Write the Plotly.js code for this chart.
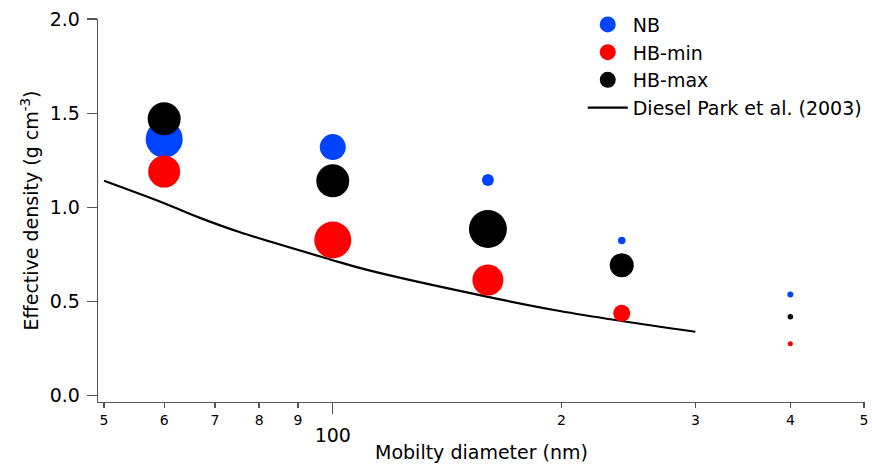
<!DOCTYPE html>
<html>
<head>
<meta charset="utf-8">
<script src="https://cdn.plot.ly/plotly-3.0.1.min.js"></script>
<style>html,body{margin:0;padding:0;background:#fff;}#chart{width:872px;height:464px;}</style>
</head>
<body>
<div id="chart"></div>
<script>
// Mobility diameters (nm)
const diam = [60, 100, 160, 240, 400];
// Effective density (g cm^-3)
const nbDensity    = [1.362, 1.320, 1.146, 0.824, 0.537];
const hbMinDensity = [1.190, 0.827, 0.615, 0.438, 0.276];
const hbMaxDensity = [1.470, 1.141, 0.885, 0.693, 0.420];
// Relative marker weights (marker diameter)
const nbWeight    = [37, 26, 12, 7.5, 6];
const hbMinWeight = [32, 37, 31, 17, 5];
const hbMaxWeight = [33, 33, 38, 24, 5.5];
// Diesel Park et al. (2003) curve
const parkDiam    = [50, 60, 67, 75.5, 99, 112, 160, 199, 240, 300];
const parkDensity = [1.141, 1.022, 0.943, 0.868, 0.725, 0.664, 0.525, 0.450, 0.397, 0.340];
// Tick labels
const minorTickVals = [50, 60, 70, 80, 90, 200, 300, 400, 500];
const minorTickText = ['5', '6', '7', '8', '9', '2', '3', '4', '5'];
const majorTickVals = [100];
const majorTickText = ['100'];
const yTickVals = [0, 0.5, 1.0, 1.5, 2.0];

const FONT = 'DejaVu Sans, Liberation Sans, Arial, sans-serif';
const xr = [1.69108, 2.70029];

const traces = [
  {x: parkDiam, y: parkDensity, type: 'scatter', mode: 'lines', name: 'Diesel Park et al. (2003)',
   line: {color: '#000', width: 2.2, shape: 'spline', smoothing: 1}, legendrank: 4},
  {x: diam, y: nbDensity, type: 'scatter', mode: 'markers', name: 'NB',
   marker: {color: '#0044ff', size: nbWeight, opacity: 1, line: {width: 0}}, legendrank: 1},
  {x: diam, y: hbMinDensity, type: 'scatter', mode: 'markers', name: 'HB-min',
   marker: {color: '#ff0000', size: hbMinWeight, opacity: 1, line: {width: 0}}, legendrank: 2},
  {x: diam, y: hbMaxDensity, type: 'scatter', mode: 'markers', name: 'HB-max',
   marker: {color: '#000000', size: hbMaxWeight, opacity: 1, line: {width: 0}}, legendrank: 3},
  {x: majorTickVals, y: [null], xaxis: 'x2', type: 'scatter', mode: 'markers', showlegend: false, hoverinfo: 'skip'}
];

const layout = {
  width: 872, height: 464,
  margin: {l: 98, r: 7, t: 19, b: 62, autoexpand: false},
  paper_bgcolor: '#fff', plot_bgcolor: '#fff',
  font: {family: FONT, color: '#000', size: 19},
  showlegend: true,
  legend: {x: 0.632, y: 1.035, xanchor: 'left', yanchor: 'top', font: {size: 19, family: FONT},
           itemsizing: 'trace', itemwidth: 40, bgcolor: 'rgba(0,0,0,0)', tracegroupgap: 0},
  xaxis: {type: 'log', range: xr, showgrid: false, zeroline: false,
          showline: true, linecolor: '#555', linewidth: 1.3,
          ticks: 'outside', ticklen: 5, tickwidth: 1.3, tickcolor: '#555',
          tickmode: 'array', tickvals: minorTickVals, ticktext: minorTickText,
          tickfont: {size: 14, family: FONT}},
  xaxis2: {type: 'log', range: xr, overlaying: 'x', anchor: 'y', side: 'bottom',
           showgrid: false, zeroline: false, showline: false,
           ticks: 'outside', ticklen: 11, tickwidth: 1.3, tickcolor: '#555',
           tickmode: 'array', tickvals: majorTickVals, ticktext: majorTickText,
           tickfont: {size: 19, family: FONT}, ticklabelstandoff: 5,
           title: {text: 'Mobilty diameter (nm)', font: {size: 19, family: FONT}, standoff: 0}},
  yaxis: {range: [-0.033, 2.0], showgrid: false, zeroline: false,
          showline: true, linecolor: '#555', linewidth: 1.3,
          ticks: 'outside', ticklen: 10, tickwidth: 1.3, tickcolor: '#555',
          tickmode: 'array', tickvals: yTickVals, tickformat: '.1f',
          tickfont: {size: 19, family: FONT}, ticklabelstandoff: 3,
          title: {text: 'Effective density (g cm<sup>-3</sup>)', font: {size: 19, family: FONT}, standoff: 6}}
};

Plotly.newPlot('chart', traces, layout, {displayModeBar: false, staticPlot: true});
</script>
</body>
</html>
